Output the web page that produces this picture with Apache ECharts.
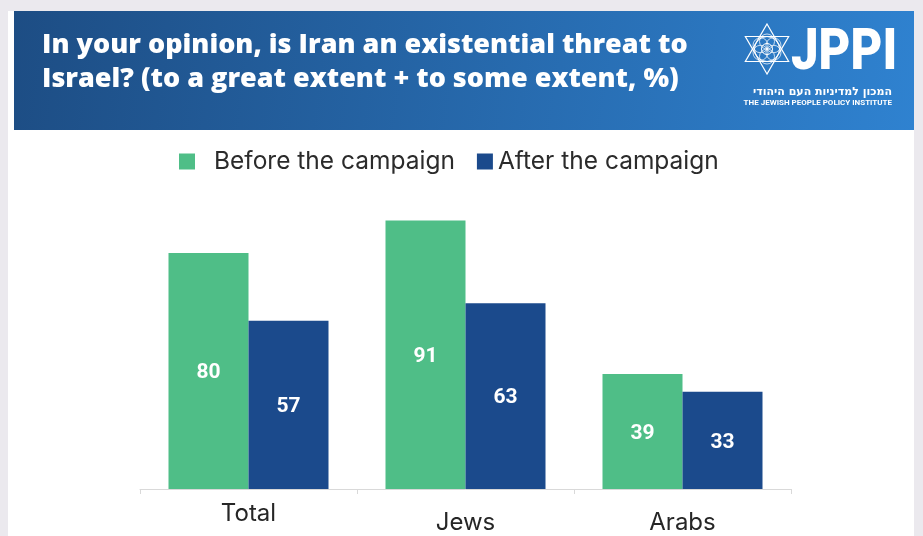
<!DOCTYPE html>
<html>
<head>
<meta charset="utf-8">
<script src="https://cdn.jsdelivr.net/npm/echarts@6/dist/echarts.min.js"></script>
<style>
  html, body { margin: 0; padding: 0; background: #ebe9ee; }
  #chart { width: 923px; height: 536px; }
</style>
</head>
<body>
<div id="chart"></div>
<script>
// Survey: share who see Iran as an existential threat to Israel (%)
const categories = ['Total', 'Jews', 'Arabs'];
const seriesNames = ['Before the campaign', 'After the campaign'];
const beforeValues = [80, 91, 39];
const afterValues = [57, 63, 33];

const titleLines = [
  'In your opinion, is Iran an existential threat to',
  'Israel? (to a great extent + to some extent, %)'
];

const GREEN = '#4fbe87';
const BLUE = '#1b4a8c';
const FONT = 'Inter';

const chart = echarts.init(document.getElementById('chart'), null, { renderer: 'canvas' });

// Hexagram logo mark built from two triangles plus interlaced rings
function starMark(cx, cy, R) {
  const els = [];
  const tri = (rot) => {
    const pts = [];
    for (let i = 0; i < 3; i++) {
      const a = rot + i * 2 * Math.PI / 3;
      pts.push([cx + R * Math.sin(a), cy - R * Math.cos(a)]);
    }
    return pts;
  };
  [0, Math.PI].forEach(rot => {
    els.push({ type: 'polygon', shape: { points: tri(rot) },
      style: { fill: 'none', stroke: '#ffffff', lineWidth: 1.2 }, z: 10 });
  });
  els.push({ type: 'circle', shape: { cx, cy, r: R * 0.5 },
    style: { fill: 'none', stroke: '#ffffff', lineWidth: 1 }, z: 10 });
  els.push({ type: 'circle', shape: { cx, cy, r: R * 0.22 },
    style: { fill: 'none', stroke: '#ffffff', lineWidth: 1 }, z: 10 });
  for (let i = 0; i < 6; i++) {
    const a = i * Math.PI / 3 + Math.PI / 6;
    els.push({ type: 'circle',
      shape: { cx: cx + R * 0.3 * Math.cos(a), cy: cy + R * 0.3 * Math.sin(a), r: R * 0.3 },
      style: { fill: 'none', stroke: '#ffffff', lineWidth: 0.8, opacity: 0.9 }, z: 10 });
  }
  return els;
}

const option = {
  backgroundColor: '#ebe9ee',
  animation: false,
  graphic: [
    // white card
    { type: 'rect', shape: { x: 8, y: 11, width: 906, height: 530 },
      style: { fill: '#ffffff' }, z: -10, silent: true },
    // header band
    { type: 'rect', shape: { x: 14, y: 11, width: 900, height: 119 },
      style: { fill: new echarts.graphic.LinearGradient(0, 0, 1, 1, [
        { offset: 0, color: '#1d4d84' },
        { offset: 1, color: '#2f82d0' }
      ]) }, z: -9, silent: true },
    { type: 'text', x: 42, y: 45, z: 10,
      style: { text: titleLines[0], fill: '#ffffff',
        font: '800 27px "Open Sans"', textVerticalAlign: 'middle' } },
    { type: 'text', x: 42, y: 79, z: 10,
      style: { text: titleLines[1], fill: '#ffffff',
        font: '800 27px "Open Sans"', textVerticalAlign: 'middle' } },
    ...starMark(767, 49, 25),
    { type: 'text', x: 791, y: 26, scaleX: 0.86, z: 10,
      style: { text: 'JPPI', fill: '#ffffff', font: '900 57px Roboto',
        textVerticalAlign: 'top' } },
    { type: 'text', x: 892, y: 92, z: 10,
      style: { text: 'המכון למדיניות העם היהודי', fill: '#ffffff',
        font: 'bold 11px "DejaVu Sans"', textAlign: 'right', textVerticalAlign: 'middle' } },
    { type: 'text', x: 892, y: 103, z: 10,
      style: { text: 'THE JEWISH PEOPLE POLICY INSTITUTE', fill: '#ffffff',
        font: 'bold 8px Roboto', textAlign: 'right', textVerticalAlign: 'middle' } }
  ],
  legend: {
    data: seriesNames,
    left: 174,
    top: 144,
    itemWidth: 16,
    itemHeight: 16,
    itemGap: 22,
    icon: 'rect',
    textStyle: {
      fontFamily: FONT,
      fontSize: 24.5,
      color: '#2b2b2b',
      rich: {
        pad: { fontFamily: FONT, fontSize: 24.5, color: '#2b2b2b', padding: [0, 0, 0, 14] },
        plain: { fontFamily: FONT, fontSize: 24.5, color: '#2b2b2b' }
      }
    },
    formatter: name => name === seriesNames[0] ? '{pad|' + name + '}' : '{plain|' + name + '}'
  },
  grid: { left: 140, right: 132, top: 194, bottom: 47, outerBoundsMode: 'none', containLabel: false },
  xAxis: {
    type: 'category',
    data: categories,
    axisLine: { lineStyle: { color: '#d9d9d9', width: 1 } },
    axisTick: { show: true, length: 5, lineStyle: { color: '#d9d9d9' } },
    axisLabel: {
      margin: 13,
      formatter: v => v === categories[0] ? '{a|' + v + '}' : '{b|' + v + '}',
      rich: {
        a: { fontFamily: FONT, fontSize: 24, color: '#262626' },
        b: { fontFamily: FONT, fontSize: 24, color: '#262626', padding: [9, 0, 0, 0] }
      }
    }
  },
  yAxis: {
    type: 'value', min: 0, max: 100, show: false,
    splitLine: { show: false }
  },
  series: [
    { name: seriesNames[0], type: 'bar', data: beforeValues, barWidth: 80, barGap: '0%',
      itemStyle: { color: GREEN },
      label: { show: true, position: 'inside', offset: [0, 2], color: '#ffffff',
        fontFamily: 'Roboto', fontWeight: 'bold', fontSize: 21 } },
    { name: seriesNames[1], type: 'bar', data: afterValues, barWidth: 80, barGap: '0%',
      itemStyle: { color: BLUE },
      label: { show: true, position: 'inside', offset: [0, 2], color: '#ffffff',
        fontFamily: 'Roboto', fontWeight: 'bold', fontSize: 21 } }
  ]
};

chart.setOption(option);
</script>
</body>
</html>
